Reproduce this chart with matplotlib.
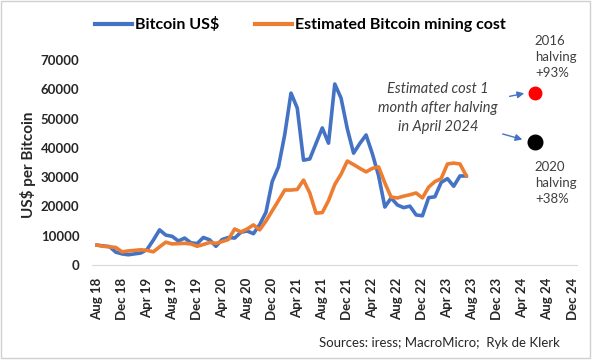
import pandas as pd
import matplotlib.pyplot as plt
from matplotlib.patches import Rectangle

plt.rcParams['font.family'] = ['Lato', 'DejaVu Sans']

# monthly axis Aug 2018 .. Dec 2024
months = pd.date_range('2018-08-01', '2024-12-01', freq='MS')
tick_labels = ['Aug 18', 'Dec 18', 'Apr 19', 'Aug 19', 'Dec 19', 'Apr 20', 'Aug 20',
               'Dec 20', 'Apr 21', 'Aug 21', 'Dec 21', 'Apr 22', 'Aug 22', 'Dec 22',
               'Apr 23', 'Aug 23', 'Dec 23', 'Apr 24', 'Aug 24', 'Dec 24']

# Aug 18 .. Jul 23
btc_price = [6800, 6500, 6300, 4400, 3800, 3500, 3800, 4100, 5300, 8500,
             12000, 10200, 9800, 8200, 9200, 7600, 7300, 9400, 8600, 6400,
             8700, 9400, 9200, 11200, 11600, 10700, 13800, 18000, 28500, 33500,
             44500, 58700, 53600, 35800, 36200, 41500, 46800, 41600, 61800, 57000,
             46500, 38200, 41500, 44400, 38000, 30500, 19800, 22900, 20500, 19600,
             20100, 17100, 16800, 23000, 23300, 28200, 29500, 26900, 30400, 30400]

mining_cost = [6800, 6400, 6200, 6000, 4500, 4800, 5000, 5200, 5000, 4500,
               6200, 7800, 7200, 7300, 7400, 7200, 6400, 7000, 7700, 7400,
               8000, 8700, 12300, 11300, 12300, 13700, 12000, 15000, 18500, 22000,
               25600, 25600, 25800, 29000, 24600, 17700, 17900, 22000, 27500, 31000,
               35500, 34300, 33000, 31800, 33000, 33500, 28000, 23200, 22900, 23500,
               24000, 24600, 22900, 26600, 28500, 29500, 34500, 34800, 34500, 30500]

# estimated cost one month after the April 2024 halving
halving_est_month = '2024-06'
est_2016 = 58800   # +93%
est_2020 = 42000   # +38%

blue = '#4472C4'
orange = '#ED7D31'
dark = '#262626'
grey = '#404040'

fig = plt.figure(figsize=(5.95, 3.61), dpi=100)
fig.patches.append(Rectangle((0.002, 0.008), 0.99, 0.989, transform=fig.transFigure,
                             fill=False, edgecolor='#d0d0d0', lw=1))

ax = fig.add_axes([0.1546, 0.2659, 0.8151, 0.5679])
x = list(range(len(btc_price)))
ax.plot(x, btc_price, color=blue, lw=2.6, label='Bitcoin US$', solid_joinstyle='round')
ax.plot(x, mining_cost, color=orange, lw=2.6, label='Estimated Bitcoin mining cost',
        solid_joinstyle='round')

m_est = list(months.strftime('%Y-%m')).index(halving_est_month)
ax.plot([m_est], [est_2016], 'o', color='#ff0000', ms=9, clip_on=False)
ax.plot([m_est], [est_2020], 'o', color='black', ms=10.5, clip_on=False)

ax.annotate('', xy=(m_est - 1.3, est_2016), xytext=(m_est - 4.5, est_2016 - 1400),
            arrowprops=dict(arrowstyle='-|>', color=blue, lw=1, mutation_scale=10))
ax.annotate('', xy=(m_est - 1.6, est_2020 + 600), xytext=(m_est - 5.6, est_2020 + 3000),
            arrowprops=dict(arrowstyle='-|>', color=blue, lw=1, mutation_scale=10))

ax.text(54.5, 53600, 'Estimated cost 1\nmonth after halving\nin April 2024',
        ha='center', va='center', style='italic', fontsize=10.5, color=grey,
        linespacing=1.45)

ax.set_xlim(-0.8, 76.7)
ax.set_ylim(0, 70000)
ax.set_yticks(range(0, 70001, 10000))
ax.set_yticklabels([str(v) for v in range(0, 70001, 10000)])
tick_pos = list(range(0, len(months), 4))
ax.set_xticks(tick_pos)
ax.set_xticklabels(tick_labels, rotation=90)
for lab in ax.get_xticklabels() + ax.get_yticklabels():
    lab.set_fontweight('bold')
    lab.set_color(dark)
    lab.set_fontsize(9.5)
ax.tick_params(axis='both', length=0)
ax.tick_params(axis='x', pad=9)
ax.tick_params(axis='y', pad=9)

for s in ['top', 'right', 'left']:
    ax.spines[s].set_visible(False)
ax.spines['bottom'].set_color('#d9d9d9')
ax.spines['bottom'].set_linewidth(0.8)

fig.text(0.047, 0.543, 'US$ per Bitcoin', rotation=90, ha='center', va='center',
         fontsize=11, fontweight='bold', color=dark)

leg = fig.legend(loc='center', bbox_to_anchor=(0.505, 0.931), ncol=2, frameon=False,
                 handlelength=2.3, handletextpad=0.2, columnspacing=2.2,
                 prop={'weight': 'bold', 'size': 11.5})
for h in leg.get_lines():
    h.set_linewidth(3)

fig.text(0.899, 0.842, '2016\nhalving\n+93%', ha='left', va='center', fontsize=9.5,
         color=grey, linespacing=1.4)
fig.text(0.899, 0.493, '2020\nhalving\n+38%', ha='left', va='center', fontsize=9.5,
         color=grey, linespacing=1.4)

fig.text(0.536, 0.05, 'Sources: iress; MacroMicro;  Ryk de Klerk', ha='left',
         va='center', fontsize=9.5, color=dark)

fig.savefig('out.png', dpi=100)
